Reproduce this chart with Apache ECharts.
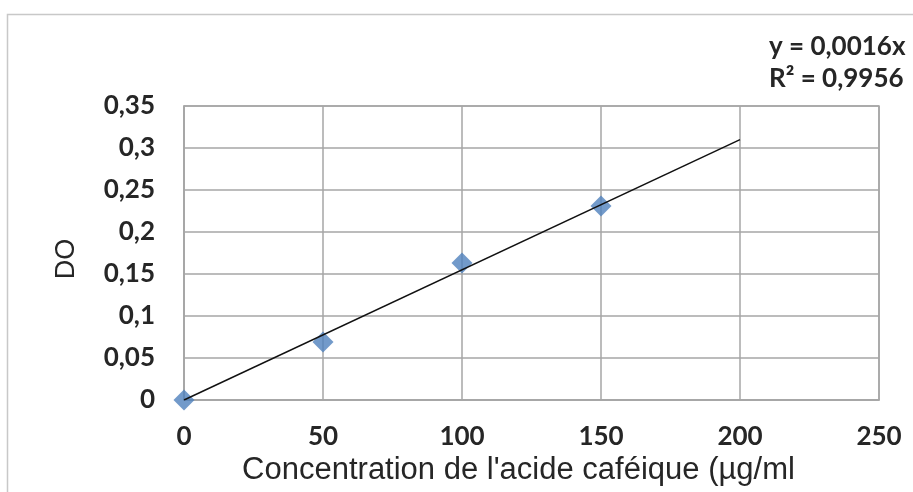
<!DOCTYPE html>
<html><head><meta charset="utf-8">
<script src="https://cdn.jsdelivr.net/npm/echarts@6/dist/echarts.min.js"></script>
<style>html,body{margin:0;padding:0;background:#fff}#c{width:913px;height:492px}</style>
</head><body><div id="c"></div>
<script>
const concentrations = [0, 50, 100, 150];
const absorbances = [0, 0.069, 0.163, 0.231];
const trendX = [0, 200];
const trendY = [0, 0.31];
const equationLines = ['y = 0,0016x', 'R² = 0,9956'];
const xTitle = "Concentration de l'acide caféique (µg/ml";
const yTitle = 'DO';

const fmt = v => (+v.toFixed(4)).toString().replace('.', ',');
const chart = echarts.init(document.getElementById('c'));
const gridColor = '#a6a6a6';
const labelFont = {fontFamily: 'Lato', fontSize: 26, fontWeight: 'bold', color: '#262626'};
chart.setOption({
  animation: false,
  backgroundColor: '#fff',
  grid: {left: 184, right: 34, top: 106, bottom: 92, show: true, borderColor: gridColor, borderWidth: 1.5},
  xAxis: {
    type: 'value', min: 0, max: 250, interval: 50,
    name: xTitle, nameLocation: 'middle', nameGap: 54,
    nameTextStyle: {fontFamily: 'Liberation Sans', fontSize: 31, color: '#262626', padding: [0, 26, 0, 0]},
    axisLine: {show: true, lineStyle: {color: gridColor, width: 1.5}},
    axisTick: {show: false},
    splitLine: {show: true, lineStyle: {color: gridColor, width: 1.5}},
    axisLabel: Object.assign({formatter: fmt, margin: 24}, labelFont)
  },
  yAxis: {
    type: 'value', min: 0, max: 0.35, interval: 0.05,
    name: yTitle, nameLocation: 'middle', nameGap: 104, nameRotate: 90,
    nameTextStyle: {fontFamily: 'Liberation Sans', fontSize: 27, color: '#262626', padding: [0, 12, 0, 0]},
    axisLine: {show: true, lineStyle: {color: gridColor, width: 1.5}},
    axisTick: {show: false},
    splitLine: {show: true, lineStyle: {color: gridColor, width: 1.5}},
    axisLabel: Object.assign({formatter: fmt, margin: 29}, labelFont)
  },
  graphic: [
    {type: 'rect', left: 5, top: 12, shape: {width: 1000, height: 1000}, style: {fill: 'none', stroke: '#c8c8c8', lineWidth: 1.5}, z: -1},
    {type: 'text', left: 769, top: 31, style: {text: equationLines.join('\n'), font: 'bold 26px Lato', fill: '#262626', lineHeight: 32, textAlign: 'left'}}
  ],
  series: [
    {type: 'line', data: trendX.map((x, i) => [x, trendY[i]]), symbol: 'none',
     lineStyle: {color: '#111', width: 1.5}, z: 3},
    {type: 'scatter', data: concentrations.map((x, i) => [x, absorbances[i]]),
     symbol: 'diamond', symbolSize: [21, 21], itemStyle: {color: '#4f81bd'}, z: 2}
  ]
});
</script></body></html>
